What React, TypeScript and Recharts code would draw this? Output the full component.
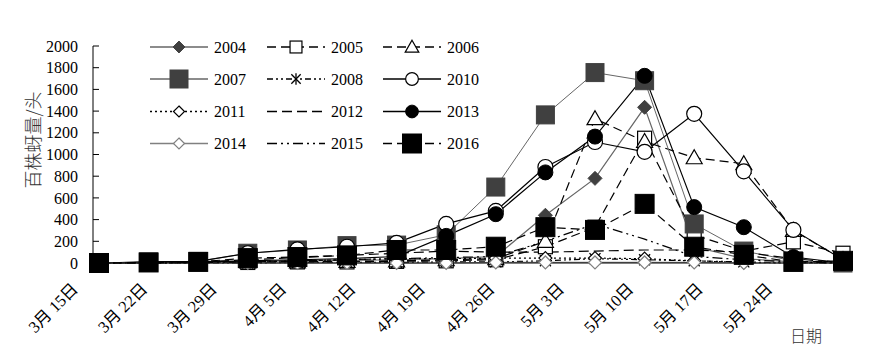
import React from 'react';
import { LineChart, Line, XAxis, YAxis, Legend } from 'recharts';

// ---- data ----
const days = [0, 5, 10, 15, 20, 25, 30, 35, 40, 45, 50, 55, 60, 65, 70, 75];
const labelDays = [0, 7, 14, 21, 28, 35, 42, 49, 56, 63, 70];
const dateLabels = ['3月 15日', '3月 22日', '3月 29日', '4月 5日', '4月 12日', '4月 19日', '4月 26日', '5月 3日', '5月 10日', '5月 17日', '5月 24日'];
const yTicks = [0, 200, 400, 600, 800, 1000, 1200, 1400, 1600, 1800, 2000];

const y2004 = [0, 5, 10, 15, 20, 25, 30, 40, 60, 440, 780, 1435, 150, 40, 10, 0];
const y2005 = [0, 0, 5, 5, 10, 10, 15, 20, 30, 150, 330, 1150, 260, 110, 195, 90];
const y2006 = [0, 0, 5, 10, 10, 15, 20, 30, 40, 200, 1330, 1120, 970, 915, 300, 30];
const y2007 = [0, 10, 15, 90, 120, 160, 165, 260, 700, 1365, 1755, 1680, 360, 110, 20, 0];
const y2008 = [0, 0, 0, 0, 5, 5, 5, 10, 10, 20, 40, 30, 20, 10, 0, 0];
const y2010 = [0, 10, 15, 90, 125, 150, 185, 360, 480, 885, 1115, 1025, 1375, 845, 305, 30];
const y2011 = [0, 0, 5, 10, 20, 30, 40, 40, 45, 45, 45, 40, 20, 5, 0, 0];
const y2012 = [0, 5, 10, 30, 50, 70, 90, 110, 100, 100, 110, 120, 120, 100, 40, 0];
const y2013 = [0, 5, 10, 20, 30, 40, 60, 250, 450, 835, 1165, 1725, 515, 330, 55, 0];
const y2014 = [0, 0, 0, 0, 0, 0, 0, 0, 5, 5, 5, 5, 5, 0, 0, 0];
const y2015 = [0, 0, 5, 10, 20, 30, 40, 50, 60, 200, 360, 220, 60, 30, 10, 0];
const y2016 = [0, 5, 10, 45, 55, 70, 120, 120, 150, 330, 305, 545, 150, 75, 10, 20];

const seriesValues: Record<string, number[]> = {
  y2004, y2005, y2006, y2007, y2008, y2010, y2011, y2012, y2013, y2014, y2015, y2016,
};

const data = days.map((d, i) => {
  const row: Record<string, number> = { day: d };
  Object.keys(seriesValues).forEach((k) => { row[k] = seriesValues[k][i]; });
  return row;
});

// ---- styles ----
type Shape = 'diamondFilled' | 'squareOpen' | 'triangleOpen' | 'squareGray' | 'asterisk' | 'circleOpen' |
  'diamondOpen' | 'circleFilled' | 'diamondOpenGray' | 'squareBlack' | null;

const series: { key: string; name: string; stroke: string; width: number; dash?: string; shape: Shape }[] = [
  { key: 'y2004', name: '2004', stroke: '#666666', width: 1.2, shape: 'diamondFilled' },
  { key: 'y2005', name: '2005', stroke: '#000000', width: 1.2, dash: '9 5', shape: 'squareOpen' },
  { key: 'y2006', name: '2006', stroke: '#000000', width: 1.2, dash: '9 5', shape: 'triangleOpen' },
  { key: 'y2007', name: '2007', stroke: '#666666', width: 1, shape: 'squareGray' },
  { key: 'y2008', name: '2008', stroke: '#000000', width: 1.2, dash: '6 3 2 3 2 3', shape: 'asterisk' },
  { key: 'y2010', name: '2010', stroke: '#000000', width: 1.2, shape: 'circleOpen' },
  { key: 'y2011', name: '2011', stroke: '#000000', width: 1.2, dash: '2 3', shape: 'diamondOpen' },
  { key: 'y2012', name: '2012', stroke: '#000000', width: 1.2, dash: '10 5', shape: null },
  { key: 'y2013', name: '2013', stroke: '#000000', width: 1.2, shape: 'circleFilled' },
  { key: 'y2014', name: '2014', stroke: '#808080', width: 1.2, shape: 'diamondOpenGray' },
  { key: 'y2015', name: '2015', stroke: '#000000', width: 1.2, dash: '10 4 2 4 2 4', shape: null },
  { key: 'y2016', name: '2016', stroke: '#000000', width: 1.2, dash: '9 5', shape: 'squareBlack' },
];

const SERIF = '"Times New Roman", "Liberation Serif", "Noto Sans CJK SC", serif';
const CJK = '"Noto Sans CJK SC", sans-serif';

function marker(shape: Shape, cx: number, cy: number, k = 1, key?: string) {
  if (shape == null || cx == null || cy == null) return <g key={key} />;
  const dia = (s: number) => `${cx},${cy - s} ${cx + s},${cy} ${cx},${cy + s} ${cx - s},${cy}`;
  switch (shape) {
    case 'diamondFilled':
      return <polygon key={key} points={dia(7 * k)} fill="#404040" stroke="#404040" strokeWidth={1} />;
    case 'squareOpen': {
      const h = 7 * k;
      return <rect key={key} x={cx - h} y={cy - h} width={2 * h} height={2 * h} fill="#fff" stroke="#000" strokeWidth={1.2} />;
    }
    case 'triangleOpen': {
      const s = 8 * k;
      return <polygon key={key} points={`${cx},${cy - s} ${cx + s},${cy + s * 0.75} ${cx - s},${cy + s * 0.75}`} fill="#fff" stroke="#000" strokeWidth={1.2} />;
    }
    case 'squareGray': {
      const h = 9;
      return <rect key={key} x={cx - h} y={cy - h} width={2 * h} height={2 * h} fill="#404040" stroke="#404040" />;
    }
    case 'squareBlack': {
      const h = 9.5;
      return <rect key={key} x={cx - h} y={cy - h} width={2 * h} height={2 * h} fill="#000" stroke="#000" />;
    }
    case 'asterisk': {
      const s = 5.5 * k;
      return (
        <g key={key} stroke="#000" strokeWidth={1.3}>
          <line x1={cx - s} y1={cy - s} x2={cx + s} y2={cy + s} />
          <line x1={cx + s} y1={cy - s} x2={cx - s} y2={cy + s} />
          <line x1={cx} y1={cy - s - 1} x2={cx} y2={cy + s + 1} />
        </g>
      );
    }
    case 'circleOpen':
      return <circle key={key} cx={cx} cy={cy} r={7.5 * k} fill="#fff" stroke="#000" strokeWidth={1.2} />;
    case 'circleFilled':
      return <circle key={key} cx={cx} cy={cy} r={7.5 * k} fill="#000" stroke="#000" />;
    case 'diamondOpen':
      return <polygon key={key} points={dia(6.5 * k)} fill="#fff" stroke="#000" strokeWidth={1.2} />;
    case 'diamondOpenGray':
      return <polygon key={key} points={dia(6.5 * k)} fill="#fff" stroke="#808080" strokeWidth={1.2} />;
    default:
      return <g key={key} />;
  }
}

const LegendBox = () => {
  const colX = [150, 267, 383];
  const rowY = [47, 79, 111.5, 143.5];
  return (
    <svg width={871} height={170} style={{ display: 'block' }}>
      {series.map((s, i) => {
        const c = i % 3;
        const r = Math.floor(i / 3);
        const x0 = colX[c];
        const y0 = rowY[r];
        return (
          <g key={s.key}>
            <line x1={x0} y1={y0} x2={x0 + 58} y2={y0} stroke={s.stroke} strokeWidth={s.width + 0.3} strokeDasharray={s.dash} />
            {marker(s.shape, x0 + 29, y0, 0.85)}
            <text x={x0 + 64} y={y0 + 5.5} fontFamily={SERIF} fontSize={16} fill="#000">{s.name}</text>
          </g>
        );
      })}
    </svg>
  );
};

const XTick = (props: any) => {
  const { x, y, payload } = props;
  const idx = labelDays.indexOf(payload.value);
  const tx = x - 20;
  const ty = y + 27;
  return (
    <text x={tx} y={ty} textAnchor="end" fontFamily={SERIF} fontSize={16.5} fill="#000"
      transform={`rotate(-45, ${tx}, ${ty})`}>
      {idx >= 0 ? dateLabels[idx] : ''}
    </text>
  );
};

const YTick = (props: any) => {
  const { x, y, payload } = props;
  return (
    <g>
      <text x={x} y={y} dy="0.35em" textAnchor="end" fontFamily={SERIF} fontSize={16} fill="#000">{payload.value}</text>
      <line x1={x + 15} x2={x + 21} y1={y} y2={y} stroke="#000" strokeWidth={1} />
    </g>
  );
};

const YTitle = (props: any) => {
  const vb = props.viewBox || { x: 0, y: 46, width: 93, height: 217 };
  const cx = vb.x + 34;
  const cy = vb.y + 94;
  return (
    <text x={cx} y={cy} textAnchor="middle" dy="0.35em" fontFamily={CJK} fontWeight={300} fontSize={18}
      style={{ fill: '#333' }} stroke="none"
      transform={`rotate(-90, ${cx}, ${cy})`}>百株蚜量/头</text>
  );
};

const XTitle = (props: any) => {
  const vb = props.viewBox || { x: 93, y: 263, width: 750, height: 100 };
  return (
    <text x={vb.x + 697} y={vb.y + 79} textAnchor="start" fontFamily={CJK} fontWeight={300} fontSize={16}
      style={{ fill: '#333' }} stroke="none">日期</text>
  );
};

export default function App() {
  return (
    <div style={{ position: 'absolute', left: 0, top: 0, width: 871, height: 363, background: '#fff' }}>
      <LineChart width={871} height={363} data={data} margin={{ top: 46, right: 28, bottom: 0, left: 0 }}>
        <XAxis
          dataKey="day"
          type="number"
          domain={[0, 75]}
          ticks={labelDays}
          interval={0}
          padding={{ left: 6, right: 0 }}
          height={100}
          tickSize={0}
          tickMargin={0}
          tickLine={false}
          axisLine={{ stroke: '#000', strokeWidth: 1 }}
          tick={<XTick />}
          label={<XTitle />}
        />
        <YAxis
          type="number"
          domain={[0, 2000]}
          ticks={yTicks}
          interval={0}
          width={93}
          tickSize={0}
          tickMargin={15}
          tickLine={false}
          axisLine={{ stroke: '#000', strokeWidth: 1 }}
          tick={<YTick />}
          label={<YTitle />}
        />
        <Legend
          layout="horizontal"
          verticalAlign="middle"
          align="center"
          wrapperStyle={{ position: 'absolute', left: 0, top: 0, width: 871, height: 170, pointerEvents: 'none' }}
          content={() => <LegendBox />}
        />
        {series.map((s) => (
          <Line
            key={s.key}
            type="linear"
            dataKey={s.key}
            name={s.name}
            stroke={s.stroke}
            strokeWidth={s.width}
            strokeDasharray={s.dash}
            isAnimationActive={false}
            dot={s.shape ? (p: any) => marker(s.shape, p.cx, p.cy, 1, `${s.key}-${p.index}`) : false}
            activeDot={false}
          />
        ))}
      </LineChart>
    </div>
  );
}
